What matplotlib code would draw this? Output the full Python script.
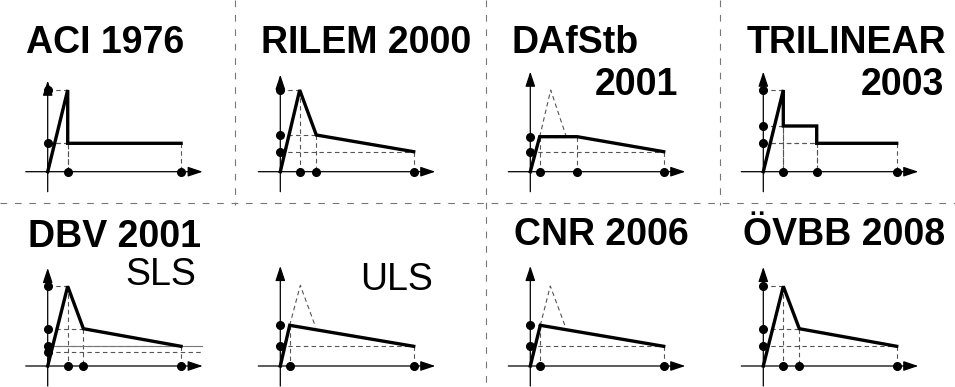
import matplotlib
matplotlib.use('Agg')
import matplotlib.pyplot as plt

plt.rcParams['font.family'] = ['Liberation Sans', 'DejaVu Sans']

W, H = 955, 387

# schematic stress-strain laws (units: strain -> x, stress -> y)
aci_x = [0, 20, 20, 133.4]
aci_y = [0, 81.7, 28.4, 28.4]

rilem_x = [0, 19.4, 36, 133.4]
rilem_y = [0, 81.7, 36.7, 20]

dafstb_x = [0, 9.4, 47, 133.4]
dafstb_y = [0, 35, 35, 20]
dafstb_ghost_x = [9.4, 20.4, 36]
dafstb_ghost_y = [35, 81.7, 35]

tri_x = [0, 20, 20, 53.4, 53.4, 133.4]
tri_y = [0, 81.7, 45.7, 45.7, 28.4, 28.4]

sls_x = [0, 20, 35.7, 133.3]
sls_y = [0, 79.7, 37.3, 19.7]
sls_limit_y = [19.7, 14]
sls_limit_end = 154

uls_x = [0, 9.4, 133.4]
uls_y = [0, 40.7, 19.7]
uls_ghost_x = [9.4, 20, 35.3]
uls_ghost_y = [40.7, 80.7, 39]

cnr_x = [0, 10, 133.4]
cnr_y = [0, 40.7, 19.7]
cnr_ghost_x = [10, 20, 35]
cnr_ghost_y = [40.7, 80, 39.5]

ovbb_x = [0, 20, 36, 133.4]
ovbb_y = [0, 79.7, 37.3, 19.7]

# panel origins in pixels (from top-left) and y-arrow tips
origins = [(47.7, 171.7), (280.3, 171.7), (530.3, 171.7), (763.3, 171.7),
           (47.7, 366), (280.3, 366), (530.3, 366), (763.3, 366)]
arrow_top = [91, 97, 100, 100, 98, 100, 100, 99]
curves = [(aci_x, aci_y), (rilem_x, rilem_y), (dafstb_x, dafstb_y), (tri_x, tri_y),
          (sls_x, sls_y), (uls_x, uls_y), (cnr_x, cnr_y), (ovbb_x, ovbb_y)]
ghosts = {2: (dafstb_ghost_x, dafstb_ghost_y), 5: (uls_ghost_x, uls_ghost_y),
          6: (cnr_ghost_x, cnr_ghost_y)}

XL, XR, YB, YT = -30, 165, -25, 105

GUIDE = dict(color='#555555', lw=0.8, dashes=(4, 3), zorder=2)
DOT = dict(color='black', ms=5.5, zorder=5, clip_on=False)

fig = plt.figure(figsize=(W / 100, H / 100), dpi=100)

# background axes in pixel coordinates for separators and titles
bg = fig.add_axes([0, 0, 1, 1])
bg.set_xlim(0, W)
bg.set_ylim(H, 0)
bg.axis('off')
sep = dict(color='#777777', lw=0.8, dashes=(6, 7))
bg.plot([0, W], [203, 203], **sep)
bg.plot([235, 235], [0, 205], **sep)
bg.plot([486, 486], [0, H], **sep)
bg.plot([720, 720], [0, 205], **sep)

bold = dict(fontsize=27, fontweight='bold', va='baseline')
reg = dict(fontsize=27, va='baseline')
bg.text(26, 53.3, 'ACI 1976', ha='left', **bold)
bg.text(261.3, 53.3, 'RILEM 2000', ha='left', **bold)
bg.text(511.3, 52.7, 'DAfStb', ha='left', **bold)
bg.text(678, 95, '2001', ha='right', **bold)
bg.text(746.7, 52.7, 'TRILINEAR', ha='left', **bold)
bg.text(944.3, 95, '2003', ha='right', **bold)
bg.text(28.3, 247, 'DBV 2001', ha='left', **bold)
bg.text(196.7, 285.3, 'SLS', ha='right', **reg)
bg.text(359.7, 289.7, 'ULS', ha='left', **reg)
bg.text(514, 245.3, 'CNR 2006', ha='left', **bold)
bg.text(743.3, 244.7, 'ÖVBB 2008', ha='left', **bold)

for i, (ox, oy) in enumerate(origins):
    left = (ox + XL) / W
    bottom = (H - oy + YB) / H
    ax = fig.add_axes([left, bottom, (XR - XL) / W, (YT - YB) / H])
    ax.set_xlim(XL, XR)
    ax.set_ylim(YB, YT)
    ax.axis('off')

    xs, ys = curves[i]

    # axes with arrows
    arr = dict(arrowstyle='-|>,head_length=0.9,head_width=0.3', lw=0.9,
               color='black', shrinkA=0, shrinkB=0, mutation_scale=10)
    ax.annotate('', xy=(155, 0), xytext=(-22, 0), arrowprops=arr)
    ax.annotate('', xy=(0, arrow_top[i]), xytext=(0, -20), arrowprops=arr)

    # dashed guides from each vertex to both axes
    for x, y in zip(xs[1:], ys[1:]):
        ax.plot([0, x], [y, y], **GUIDE)
        ax.plot([x, x], [y, 0], **GUIDE)

    if i in ghosts:
        gx, gy = ghosts[i]
        ax.plot(gx, gy, **GUIDE)

    if i == 4:
        ax.plot([0, sls_limit_end], [sls_limit_y[0]] * 2, color='#777777', lw=0.8, zorder=2)
        ax.plot([0, sls_limit_end], [sls_limit_y[1]] * 2, **GUIDE)
        ax.plot([0], [sls_limit_y[1]], 'o', **DOT)

    ax.plot(xs, ys, color='black', lw=2.4, solid_joinstyle='miter', zorder=4)

    ydots = sorted(set(ys[1:]))
    xdots = sorted(set(xs[1:]))
    ax.plot([0] * len(ydots), ydots, 'o', **DOT)
    ax.plot(xdots, [0] * len(xdots), 'o', **DOT)

fig.savefig('out.png', dpi=100)
